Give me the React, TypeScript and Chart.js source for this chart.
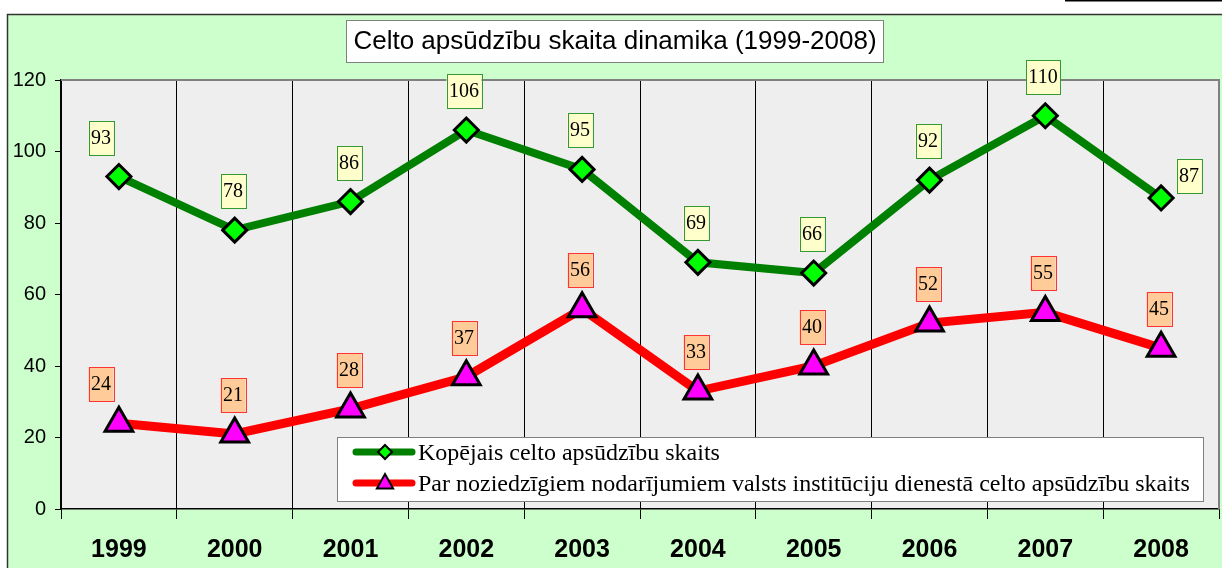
import React, { useEffect, useRef } from "react";
import { Chart, registerables } from "chart.js";

Chart.register(...registerables);

const years = ["1999", "2000", "2001", "2002", "2003", "2004", "2005", "2006", "2007", "2008"];
const totalCharges = [93, 78, 86, 106, 95, 69, 66, 92, 110, 87];
const institutionCharges = [24, 21, 28, 37, 56, 33, 40, 52, 55, 45];
const yTicks = [0, 20, 40, 60, 80, 100, 120];
const chartTitle = "Celto apsūdzību skaita dinamika (1999-2008)";
const seriesNames = [
  "Kopējais celto apsūdzību skaits",
  "Par noziedzīgiem nodarījumiem valsts institūciju dienestā celto apsūdzību skaits",
];

const SERIF = '"Liberation Serif", "Times New Roman", serif';
const SANS = '"Liberation Sans", Arial, sans-serif';

const labelStyles = [
  { fill: "#FFFFCC", stroke: "#339933" },
  { fill: "#FFCC99", stroke: "#FF3333" },
];

function drawMarker(ctx: CanvasRenderingContext2D, kind: string, x: number, y: number, r: number, fill: string, lw: number) {
  ctx.save();
  ctx.beginPath();
  if (kind === "diamond") {
    ctx.moveTo(x, y - r);
    ctx.lineTo(x + r, y);
    ctx.lineTo(x, y + r);
    ctx.lineTo(x - r, y);
  } else {
    ctx.moveTo(x, y - r);
    ctx.lineTo(x + r * 0.9, y + r * 0.6);
    ctx.lineTo(x - r * 0.9, y + r * 0.6);
  }
  ctx.closePath();
  ctx.fillStyle = fill;
  ctx.fill();
  ctx.lineWidth = lw;
  ctx.strokeStyle = "#000";
  ctx.lineJoin = "miter";
  ctx.stroke();
  ctx.restore();
}

const decorPlugin = {
  id: "decor",
  beforeDraw(chart: any) {
    const { ctx, chartArea: a, width, height } = chart;
    ctx.save();
    ctx.fillStyle = "#FFFFFF";
    ctx.fillRect(0, 0, width, height);
    ctx.fillStyle = "#CCFFCC";
    ctx.fillRect(7, 14, width - 7, height - 14);
    ctx.strokeStyle = "#333333";
    ctx.lineWidth = 1.5;
    ctx.beginPath();
    ctx.moveTo(7.5, height);
    ctx.lineTo(7.5, 14.5);
    ctx.lineTo(width, 14.5);
    ctx.stroke();
    // fragment of the page element above the chart
    ctx.fillStyle = "#000";
    ctx.fillRect(1065, 0, 157, 1.5);
    // plot area
    ctx.fillStyle = "#EEEEEE";
    ctx.fillRect(a.left, a.top, a.right - a.left, a.bottom - a.top);
    // title box
    ctx.font = `26px ${SANS}`;
    const tw = ctx.measureText(chartTitle).width;
    const cx = 615;
    const bw = tw + 14;
    ctx.fillStyle = "#FFFFFF";
    ctx.fillRect(cx - bw / 2, 20, bw, 42);
    ctx.strokeStyle = "#808080";
    ctx.lineWidth = 1;
    ctx.strokeRect(Math.round(cx - bw / 2) + 0.5, 20.5, Math.round(bw), 42);
    ctx.fillStyle = "#000";
    ctx.textAlign = "center";
    ctx.textBaseline = "middle";
    ctx.fillText(chartTitle, cx, 42);
    ctx.restore();
  },
  beforeDatasetsDraw(chart: any) {
    const { ctx, chartArea: a } = chart;
    ctx.save();
    ctx.strokeStyle = "#808080";
    ctx.lineWidth = 2;
    ctx.beginPath();
    ctx.moveTo(a.left, a.top);
    ctx.lineTo(a.right, a.top);
    ctx.lineTo(a.right, a.bottom);
    ctx.stroke();
    ctx.restore();
  },
  afterDatasetsDraw(chart: any) {
    const { ctx } = chart;
    ctx.save();
    // data labels
    chart.data.datasets.forEach((ds: any, di: number) => {
      const meta = chart.getDatasetMeta(di);
      const st = labelStyles[di];
      meta.data.forEach((pt: any, i: number) => {
        const text = String(ds.data[i]);
        let dx = -2;
        let dy = 39;
        if (i === 0) dx = -18;
        if (di === 0 && i === ds.data.length - 1) {
          dx = 28;
          dy = 22;
        }
        ctx.font = `20px ${SERIF}`;
        const w = Math.round(ctx.measureText(text).width + 5);
        const h = 34;
        const cx = Math.round(pt.x + dx);
        const cy = Math.round(pt.y - dy);
        ctx.fillStyle = st.fill;
        ctx.fillRect(cx - w / 2, cy - h / 2, w, h);
        ctx.strokeStyle = st.stroke;
        ctx.lineWidth = 1;
        ctx.strokeRect(Math.round(cx - w / 2) + 0.5, cy - h / 2 + 0.5, w, h);
        ctx.fillStyle = "#000";
        ctx.textAlign = "center";
        ctx.textBaseline = "middle";
        ctx.fillText(text, cx, cy + 1);
      });
    });
    // legend
    const lx = 337, ly = 437, lw = 866, lh = 64;
    ctx.fillStyle = "#FFFFFF";
    ctx.fillRect(lx, ly, lw, lh);
    ctx.strokeStyle = "#808080";
    ctx.lineWidth = 1;
    ctx.strokeRect(lx + 0.5, ly + 0.5, lw, lh);
    const rows = [
      { y: 452, color: "#008000", marker: "diamond", fill: "#00FF00" },
      { y: 483, color: "#FF0000", marker: "triangle", fill: "#FF00FF" },
    ];
    rows.forEach((r, i) => {
      ctx.strokeStyle = r.color;
      ctx.lineWidth = 7;
      ctx.lineCap = "round";
      ctx.beginPath();
      ctx.moveTo(356, r.y);
      ctx.lineTo(412, r.y);
      ctx.stroke();
      ctx.lineCap = "butt";
      drawMarker(ctx, r.marker, 385, r.y, r.marker === "diamond" ? 7 : 9, r.fill, 2);
      ctx.fillStyle = "#000";
      ctx.font = `24px ${SERIF}`;
      ctx.textAlign = "left";
      ctx.textBaseline = "middle";
      ctx.fillText(seriesNames[i], 418, r.y + 2);
    });
    ctx.restore();
  },
};

export default function App() {
  const canvasRef = useRef<HTMLCanvasElement | null>(null);

  useEffect(() => {
    document.body.style.margin = "0";
    const canvas = canvasRef.current;
    if (!canvas) return;
    const chart = new Chart(canvas, {
      type: "line",
      data: {
        labels: years,
        datasets: [
          {
            label: seriesNames[0],
            data: totalCharges,
            borderColor: "#008000",
            borderWidth: 8,
            backgroundColor: "#00FF00",
            pointStyle: "rectRot",
            pointRadius: 12,
            pointBorderWidth: 3,
            pointBorderColor: "#000",
            pointBackgroundColor: "#00FF00",
            tension: 0,
            fill: false,
          },
          {
            label: seriesNames[1],
            data: institutionCharges,
            borderColor: "#FF0000",
            borderWidth: 9,
            backgroundColor: "#FF00FF",
            pointStyle: "triangle",
            pointRadius: 16,
            pointBorderWidth: 3,
            pointBorderColor: "#000",
            pointBackgroundColor: "#FF00FF",
            tension: 0,
            fill: false,
          },
        ],
      },
      options: {
        animation: false,
        responsive: true,
        maintainAspectRatio: false,
        layout: { autoPadding: false, padding: { top: 80, right: 3, left: 0, bottom: 0 } },
        plugins: {
          legend: { display: false },
          title: { display: false },
          tooltip: { enabled: false },
        },
        scales: {
          x: {
            offset: true,
            grid: {
              offset: true,
              color: (c: any) => (c.index === years.length ? "#808080" : "#000000"),
              lineWidth: 1,
              tickLength: 10,
              drawOnChartArea: true,
            },
            border: { color: "#000", width: 1.5 },
            ticks: {
              color: "#000",
              font: { family: SANS, size: 25, weight: "bold" },
              padding: 16,
              maxRotation: 0,
            },
            afterFit: (s: any) => {
              s.height = 59;
              s.paddingLeft = 0;
              s.paddingRight = 0;
            },
          },
          y: {
            min: 0,
            max: 120,
            afterBuildTicks: (s: any) => {
              s.ticks = yTicks.map((v) => ({ value: v }));
            },
            grid: {
              drawOnChartArea: false,
              color: "#000",
              tickLength: 6,
            },
            border: { color: "#000", width: 1.5 },
            ticks: {
              color: "#000",
              font: { family: SANS, size: 20 },
              padding: 9,
            },
            afterFit: (s: any) => {
              s.width = 61;
              s.paddingTop = 0;
              s.paddingBottom = 0;
            },
          },
        },
      },
      plugins: [decorPlugin],
    });
    return () => chart.destroy();
  }, []);

  return (
    <div style={{ width: 1222, height: 568, position: "relative" }}>
      <canvas ref={canvasRef} />
    </div>
  );
}
